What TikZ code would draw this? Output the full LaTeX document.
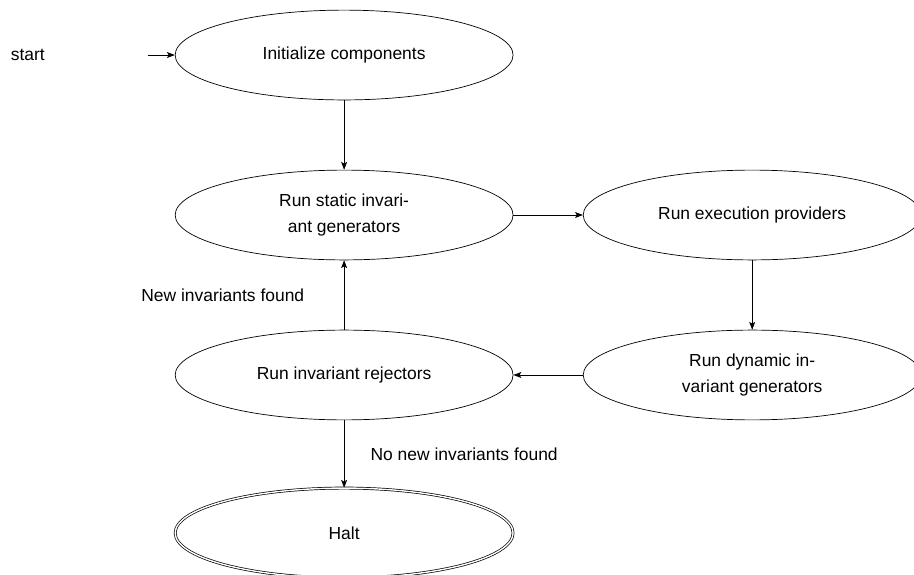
\documentclass[tikz,border=0pt]{standalone}
\usepackage{fontspec}
\setmainfont{Liberation Sans}
\usetikzlibrary{positioning, shapes.geometric, arrows.meta}

\begin{document}
\begin{tikzpicture}[>={Stealth[length=4.5pt, width=3.4pt, inset=1pt]}, node distance=1.4cm,
        stage/.style={ellipse, draw, minimum width=6.81cm, minimum height=1.81cm,
            align=center, font=\fontsize{10}{14.4}\selectfont}]
        \useasboundingbox (0,0) rectangle (18.42,-11.57);

        % Stages
        \node[stage] (init) at (6.935,-1.109) {Initialize components};
        \node[stage, below=of init] (static) {Run static invari-\\ant generators};
        \node[stage, right=of static] (exec) {Run execution providers};
        \node[stage, below=of exec] (dynamic) {Run dynamic in-\\variant generators};
        \node[stage, below=of static] (reject) {Run invariant rejectors};
        \node[stage, double, double distance=0.8pt, below=1.36cm of reject] (halt) {Halt};

        % Start
        \node (start) at (0.56,-1.109) {start};
        \coordinate[left=0.544cm of init.west] (entry);
        \draw[->] (entry) -- (init);

        % Transitions
        \draw[->] (init) -- (static);
        \draw[->] (static) -- (exec);
        \draw[->] (exec) -- (dynamic);
        \draw[->] (dynamic) -- (reject);
        \draw[->] (reject) -- node[left=0.68cm] {New invariants found} (static);
        \draw[->] (reject) -- node[right=0.41cm] {No new invariants found} (halt);
    \end{tikzpicture}
\end{document}
